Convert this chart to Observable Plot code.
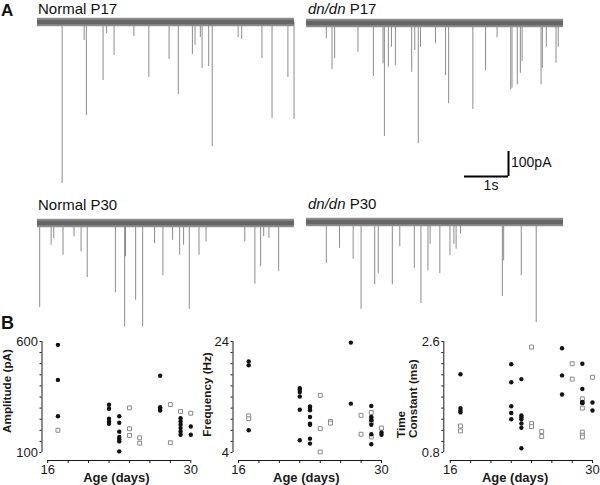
<!DOCTYPE html>
<html><head><meta charset="utf-8">
<script src="https://cdn.jsdelivr.net/npm/d3@7"></script>
<script src="https://cdn.jsdelivr.net/npm/@observablehq/plot@0.6"></script>
<style>
html,body{margin:0;padding:0;background:#fff;}
#fig{position:relative;width:600px;height:485px;overflow:hidden;font-family:"Liberation Sans",Arial,sans-serif;}
#fig svg{position:absolute;overflow:visible;}
</style></head><body><div id="fig"></div>
<script>
// ---------- Panel A: mEPSC-like traces, events as [time (s), amplitude (pA)] ----------
const traceDuration = 5.84;      // s
const noiseHalfWidth = 17;       // pA, baseline noise band
const normalP17 = [[0.56,644],[1.06,72],[1.11,372],[1.49,232],[1.57,44],[1.74,132],[2.19,56],[2.53,220],[2.99,148],[3.20,288],[3.52,128],[3.58,92],[3.70,60],[3.74,184],[3.89,176],[3.97,496],[4.56,60],[4.64,68],[5.10,144],[5.33,384],[5.69,220],[5.83,388]];
const dnP17 = [[0.45,61],[0.58,185],[0.64,141],[1.17,115],[1.52,212],[1.74,161],[1.77,452],[1.86,175],[1.93,95],[2.02,168],[2.39,195],[2.46,108],[2.54,481],[2.59,95],[2.93,81],[3.16,208],[3.23,321],[3.78,344],[4.07,188],[4.33,57],[4.64,265],[4.67,259],[4.79,245],[4.86,199],[4.90,152],[5.33,245],[5.36,179],[5.45,95],[5.67,159],[5.72,95]];
const normalP30 = [[0.05,336],[0.31,87],[0.37,60],[0.58,127],[0.83,53],[0.99,113],[1.13,216],[1.77,277],[1.98,413],[2.00,133],[2.23,307],[2.39,413],[2.66,80],[2.85,209],[3.07,67],[3.23,127],[3.32,87],[3.45,343],[3.67,127],[3.83,73],[4.71,73],[4.94,243],[5.07,173],[5.14,53],[5.26,60],[5.48,193]];
const dnP30 = [[0.45,164],[0.75,103],[1.06,147],[1.24,347],[1.55,249],[1.63,204],[1.95,249],[2.12,97],[2.45,183],[2.60,324],[2.76,193],[2.81,87],[3.03,204],[3.26,133],[3.35,87],[3.40,107],[3.50,47],[4.45,296],[4.48,153],[4.88,213],[5.22,400]];
const scaleBarSeconds = 1;
const scaleBarPA = 100;

// ---------- Panel B: [age (days), value] ----------
const ageTicks = [16,18,20,22,24,26,28,30];
const ageTickLabels = {16:"16", 30:"30"};
const amplitudeNormal = [[17,585],[17,427],[17,263],[22,315],[22,297],[22,252],[22,240],[22,229],[23,263],[23,234],[23,194],[23,170],[23,160],[23,150],[23,105],[27,446],[27,304],[27,297],[27,289],[29,254],[29,240],[29,225],[29,210],[29,195],[29,180],[30,217],[30,180]];
const amplitudeDn = [[17,200],[24,301],[24,207],[24,177],[25,166],[25,142],[28,316],[28,144],[29,285],[30,277]];
const frequencyNormal = [[17,20.4],[17,19.7],[17,8.0],[22,15.6],[22,15.3],[22,14.9],[22,14.1],[22,11.7],[22,6.2],[23,12.3],[23,12.0],[23,11.6],[23,10.4],[23,9.2],[23,9.0],[23,6.5],[23,5.6],[27,23.8],[27,12.8],[29,12.4],[29,10.4],[29,9.8],[29,9.0],[29,7.3],[29,5.5],[30,7.6],[30,7.2]];
const frequencyDn = [[17,10.6],[17,10.1],[24,14.3],[24,8.3],[24,4.1],[25,9.6],[25,9.3],[28,10.7],[28,7.3],[29,11.2],[29,10.1],[29,9.4],[29,6.8],[30,8.4]];
const timeNormal = [[17,2.07],[17,1.52],[17,1.48],[17,1.45],[22,2.23],[22,1.94],[22,1.55],[22,1.44],[22,1.34],[23,1.99],[23,1.40],[23,1.37],[23,1.34],[23,1.27],[23,1.20],[23,0.87],[27,2.49],[27,2.05],[27,1.74],[29,2.24],[29,1.83],[29,1.62],[29,1.61],[29,1.60],[30,1.61],[30,1.48]];
const timeDn = [[17,1.23],[17,1.15],[24,2.51],[24,1.27],[24,1.22],[25,1.14],[25,1.06],[28,2.24],[28,1.99],[29,1.67],[29,1.52],[29,1.13],[29,1.08],[29,1.05],[30,2.02]];
const amplitudeTicks = [100,150,200,250,300,350,400,450,500,550,600];
const frequencyTicks = [4,6,8,10,12,14,16,18,20,22,24];
const timeTicks = [0.8,0.98,1.16,1.34,1.52,1.7,1.88,2.06,2.24,2.42,2.6];

const FONT = '"Liberation Sans", Arial, Helvetica, sans-serif';
const fig = document.getElementById("fig");
function place(svg, left, top) { svg.style.left = left + "px"; svg.style.top = top + "px"; fig.appendChild(svg); }

// traces
function trace(events, left, baseline) {
  const svg = Plot.plot({
    width: 257, height: 185, margin: 0,
    x: {domain: [0, traceDuration], axis: null},
    y: {domain: [-700, 40], axis: null},
    style: {background: "transparent", overflow: "visible"},
    marks: [
      Plot.ruleX(events, {x: d => d[0], y1: 0, y2: d => -d[1], stroke: "#8c8c8c", strokeWidth: 1}),
      Plot.rect([noiseHalfWidth], {x1: 0, x2: traceDuration, y1: d => -d, y2: d => d, fill: "#8e8e8e"}),
      Plot.rect([noiseHalfWidth], {x1: 0, x2: traceDuration, y1: d => -d * 0.55, y2: d => d * 0.55, fill: "#666"})
    ]
  });
  place(svg, left, baseline - 10);
}
trace(normalP17, 37, 22);
trace(dnP17, 306, 23);
trace(normalP30, 37, 223);
trace(dnP30, 306, 222);

// scale bar
place(Plot.plot({
  width: 46, height: 27, margin: 1,
  x: {domain: [0, scaleBarSeconds], axis: null},
  y: {domain: [0, scaleBarPA], axis: null},
  style: {background: "transparent", overflow: "visible"},
  marks: [
    Plot.ruleY([0], {x1: 0, x2: scaleBarSeconds, stroke: "#000", strokeWidth: 2}),
    Plot.ruleX([scaleBarSeconds], {y1: 0, y2: scaleBarPA, stroke: "#000", strokeWidth: 2})
  ]
}), 463, 149.7);

// scatter plots
function scatter(o) {
  const yd = [o.ticks[0], o.ticks[o.ticks.length - 1]];
  const svg = Plot.plot({
    width: o.width, height: 155,
    marginLeft: o.marginLeft, marginRight: o.marginRight, marginTop: 11, marginBottom: 25,
    x: {domain: [16, 30], insetLeft: o.inset},
    y: {domain: yd, insetBottom: 8},
    style: {background: "transparent", overflow: "visible", fontFamily: FONT, fontSize: "13px", color: "#1a1a1a"},
    marks: [
      Plot.ruleY([yd[0]], {x1: 16, x2: 30, dy: 8, stroke: "#1a1a1a"}),
      Plot.ruleX([16], {y1: yd[0], y2: yd[1], dx: -o.inset, stroke: "#1a1a1a"}),
      Plot.axisX({ticks: ageTicks, tickSize: 3, tickPadding: 1, tickFormat: d => ageTickLabels[d] || "", label: null, fontSize: 13}),
      Plot.axisY({ticks: o.ticks, tickSize: 2, tickPadding: 2, tickFormat: d => (d === yd[0] || d === yd[1]) ? String(d) : "", label: null, fontSize: 13}),
      Plot.dot(o.dn, {x: d => d[0], y: d => d[1], symbol: "square", r: 2.2, fill: "white", stroke: "#8a8a8a", strokeWidth: 1}),
      Plot.dot(o.normal, {x: d => d[0], y: d => d[1], r: 2.2, fill: "#111", stroke: "none"}),
      Plot.text([o.label], {frameAnchor: o.labelAnchor, rotate: -90, textAnchor: o.labelTextAnchor, lineHeight: 1, dx: o.labelDx, dy: o.labelDy, fontWeight: "bold", fontSize: 11.7}),
      Plot.text(["Age (days)"], {frameAnchor: "bottom", dx: o.ageDx, dy: 21.5, fontWeight: "bold", fontSize: 13})
    ]
  });
  place(svg, o.left, 330);
}
scatter({left: 0, width: 200, marginLeft: 41.5, marginRight: 9.7, inset: 5.7, ticks: amplitudeTicks,
  normal: amplitudeNormal, dn: amplitudeDn, label: "Amplitude (pA)", labelAnchor: "left", labelTextAnchor: "middle", labelDx: -34.8, labelDy: -10, ageDx: 0});
scatter({left: 200, width: 200, marginLeft: 32.5, marginRight: 19, inset: 5.5, ticks: frequencyTicks,
  normal: frequencyNormal, dn: frequencyDn, label: "Frequency (Hz)", labelAnchor: "left", labelTextAnchor: "middle", labelDx: -25.8, labelDy: -6.5, ageDx: -1});
scatter({left: 390, width: 210, marginLeft: 53.3, marginRight: 8, inset: 6.5, ticks: timeTicks,
  normal: timeNormal, dn: timeDn, label: "Time\nConstant (ms)", labelAnchor: "bottom-left", labelTextAnchor: "start", labelDx: -27, labelDy: -22.5, ageDx: -3});

// annotations
const ov = d3.create("svg").attr("width", 600).attr("height", 485)
  .style("left", "0px").style("top", "0px").style("pointer-events", "none")
  .attr("font-family", FONT).attr("fill", "#111");
function label(x, y, parts, size, weight, anchor) {
  const t = ov.append("text").attr("x", x).attr("y", y).attr("font-size", size)
    .attr("font-weight", weight || "normal").attr("text-anchor", anchor || "start");
  for (const [s, italic] of parts) t.append("tspan").attr("font-style", italic ? "italic" : "normal").text(s);
}
label(1, 15.5, [["A"]], 17, "bold");
label(1, 329, [["B"]], 18, "bold");
label(38, 13.8, [["Normal P17"]], 15);
label(308, 13.8, [["dn/dn", true], [" P17"]], 15);
label(38, 210, [["Normal P30"]], 15);
label(308, 208.5, [["dn/dn", true], [" P30"]], 15);
label(511, 167, [["100pA"]], 14);
label(491, 190, [["1s"]], 14, "normal", "middle");
fig.appendChild(ov.node());
</script></body></html>
